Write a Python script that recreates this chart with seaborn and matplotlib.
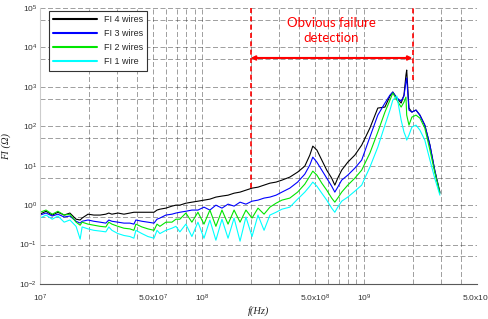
import matplotlib
matplotlib.use('Agg')
import matplotlib.pyplot as plt
import seaborn as sns
import pandas as pd
from matplotlib.ticker import FixedLocator, NullFormatter

# frequency axis (Hz), shared by the four curves
freq_hz = [1.0e7, 1.09e7, 1.19e7, 1.29e7, 1.41e7, 1.53e7, 1.67e7, 1.77e7, 1.82e7, 1.98e7,
           2.15e7, 2.35e7, 2.55e7, 2.66e7, 2.78e7, 3.03e7, 3.30e7, 3.59e7, 3.80e7, 3.91e7,
           4.26e7, 4.64e7, 5.06e7, 5.28e7, 5.5e7, 5.99e7, 6.53e7, 6.91e7, 7.31e7, 7.96e7,
           8.67e7, 9.45e7, 1.03e8, 1.12e8, 1.22e8, 1.33e8, 1.45e8, 1.58e8, 1.72e8, 1.87e8,
           2.04e8, 2.22e8, 2.42e8, 2.63e8, 2.87e8, 3.12e8, 3.49e8, 3.90e8, 4.32e8, 4.64e8,
           4.84e8, 5.13e8, 5.50e8, 5.90e8, 6.33e8, 6.62e8, 6.90e8, 7.30e8, 7.96e8, 8.80e8,
           9.70e8, 1.09e9, 1.22e9, 1.35e9, 1.45e9, 1.51e9, 1.60e9, 1.70e9, 1.77e9, 1.82e9,
           1.84e9, 1.90e9, 1.98e9, 2.10e9, 2.22e9, 2.38e9, 2.56e9, 2.74e9, 2.95e9]

fi_4_wires = [0.59, 0.70, 0.56, 0.66, 0.56, 0.63, 0.44, 0.42, 0.47, 0.59,
              0.56, 0.56, 0.59, 0.63, 0.59, 0.63, 0.59, 0.63, 0.66, 0.66,
              0.66, 0.66, 0.66, 0.75, 0.79, 0.84, 0.944, 1.0, 1.0, 1.12,
              1.19, 1.26, 1.34, 1.42, 1.60, 1.70, 1.79, 2.01, 2.14, 2.40,
              2.70, 2.86, 3.22, 3.61, 3.84, 4.31, 5.14, 6.88, 9.77, 18.6,
              31.4, 24.9, 13.9, 7.73, 4.84, 3.22, 4.84, 7.73, 12.3, 18.6,
              33.3, 90, 290, 307, 585, 738, 520, 388, 619, 1990,
              2670, 290, 229, 258, 192, 107, 33.3, 7.73, 2.14]

fi_3_wires = [0.56, 0.63, 0.53, 0.59, 0.50, 0.53, 0.39, 0.35, 0.39, 0.42,
              0.39, 0.37, 0.35, 0.42, 0.39, 0.37, 0.35, 0.35, 0.33, 0.42,
              0.39, 0.37, 0.35, 0.44, 0.47, 0.56, 0.59, 0.63, 0.66, 0.70,
              0.75, 0.75, 0.89, 0.75, 1.0, 0.84, 1.06, 0.944, 1.19, 1.06,
              1.26, 1.34, 1.51, 1.60, 1.79, 2.14, 2.70, 3.84, 6.12, 10.4,
              16.5, 12.3, 7.73, 4.84, 3.03, 2.14, 2.86, 4.31, 5.77, 8.69,
              13.9, 53.2, 192, 388, 619, 738, 520, 437, 585, 1324,
              1671, 258, 229, 258, 192, 107, 33.3, 7.73, 2.01]

fi_2_wires = [0.66, 0.75, 0.59, 0.70, 0.56, 0.59, 0.37, 0.31, 0.37, 0.33,
              0.31, 0.29, 0.28, 0.37, 0.33, 0.29, 0.26, 0.25, 0.23, 0.33,
              0.28, 0.25, 0.23, 0.33, 0.29, 0.37, 0.37, 0.44, 0.44, 0.63,
              0.37, 0.66, 0.33, 0.75, 0.29, 0.75, 0.33, 0.75, 0.37, 0.75,
              0.47, 0.84, 0.59, 0.89, 1.12, 1.34, 1.51, 2.14, 3.41, 5.45,
              7.29, 5.77, 3.61, 2.40, 1.51, 1.19, 1.51, 2.14, 3.22, 4.84,
              7.73, 20.9, 71.3, 229, 462, 697, 462, 307, 411, 551,
              192, 107, 171, 192, 161, 90, 24.9, 6.88, 2.01]

fi_1_wire = [0.47, 0.56, 0.44, 0.53, 0.37, 0.42, 0.29, 0.137, 0.28, 0.25,
             0.23, 0.22, 0.21, 0.28, 0.23, 0.19, 0.17, 0.16, 0.145, 0.23,
             0.19, 0.16, 0.145, 0.23, 0.19, 0.23, 0.26, 0.29, 0.21, 0.33,
             0.16, 0.37, 0.145, 0.42, 0.129, 0.44, 0.145, 0.47, 0.122, 0.50,
             0.16, 0.56, 0.23, 0.56, 0.66, 0.79, 0.89, 1.42, 2.14, 3.03,
             3.84, 3.03, 2.01, 1.34, 0.84, 0.66, 0.89, 1.26, 1.60, 2.26,
             3.22, 9.2, 29.6, 107, 258, 462, 585, 144, 71.3, 53.2,
             44.7, 59.8, 95.4, 107, 80, 44.7, 13.9, 4.84, 1.79]

labels = ['FI 4 wires', 'FI 3 wires', 'FI 2 wires', 'FI 1 wire']
colors = ['#000000', '#0000ff', '#00e600', '#00ffff']

x_ticks = [1e7, 5e7, 1e8, 5e8, 1e9, 5e9]
x_ticklabels = [r'$10^{7}$', r'$5.0\mathrm{x}10^{7}$', r'$10^{8}$',
                r'$5.0\mathrm{x}10^{8}$', r'$10^{9}$', r'$5.0\mathrm{x}10^{9}$']
y_ticks = [1e-2, 1e-1, 1e0, 1e1, 1e2, 1e3, 1e4, 1e5]
y_ticklabels = [r'$10^{-2}$', r'$10^{-1}$', r'$10^{0}$', r'$10^{1}$',
                r'$10^{2}$', r'$10^{3}$', r'$10^{4}$', r'$10^{5}$']

# failure detection band
band_lo, band_hi = 2e8, 2e9

sns.set_style('white')
plt.rcParams['font.family'] = ['Liberation Sans', 'DejaVu Sans']
plt.rcParams['mathtext.fontset'] = 'custom'
plt.rcParams['mathtext.rm'] = 'Liberation Sans'
plt.rcParams['mathtext.it'] = 'Liberation Sans:italic'

series = [fi_4_wires, fi_3_wires, fi_2_wires, fi_1_wire]
df = pd.concat([pd.DataFrame({'f': freq_hz, 'fi': s, 'series': lab})
                for s, lab in zip(series, labels)], ignore_index=True)

fig = plt.figure(figsize=(4.89, 3.19), dpi=100)
ax = fig.add_axes([40 / 489, 1 - 284 / 319, 437 / 489, 276 / 319])

sns.lineplot(data=df, x='f', y='fi', hue='series', hue_order=labels,
             palette=colors, estimator=None, sort=False, lw=0.8, ax=ax)

ax.set_xscale('log')
ax.set_yscale('log')
ax.set_xlim(1e7, 5e9)
ax.set_ylim(1e-2, 1e5)

ax.xaxis.set_major_locator(FixedLocator(x_ticks))
ax.set_xticklabels(x_ticklabels)
x_minor = [m * 10 ** e for e in (7, 8, 9) for m in (2, 3, 4, 6, 7, 8, 9)]
ax.xaxis.set_minor_locator(FixedLocator([v for v in x_minor if v < 5e9]))
ax.xaxis.set_minor_formatter(NullFormatter())
ax.yaxis.set_major_locator(FixedLocator(y_ticks))
ax.set_yticklabels(y_ticklabels)
ax.yaxis.set_minor_locator(FixedLocator([5 * v for v in y_ticks[:-1]]))
ax.yaxis.set_minor_formatter(NullFormatter())
ax.tick_params(which='both', length=0, labelsize=6, colors='0.2')
ax.tick_params(axis='x', pad=6)
ax.tick_params(axis='y', pad=2)

ax.grid(True, which='both', color='0.2', linestyle=(0, (6, 3)), lw=0.6, alpha=0.55)
for side in ['top', 'right']:
    ax.spines[side].set_visible(False)
ax.spines['bottom'].set_color('0.35')
ax.spines['left'].set_color('0.8')
ax.spines['bottom'].set_linewidth(0.8)
ax.spines['left'].set_linewidth(0.8)

ax.set_xlabel('f(Hz)', family='Liberation Serif', style='italic', fontsize=7.5, labelpad=2)
ax.set_ylabel('FI (Ω)', family='Liberation Serif', style='italic', fontsize=7.5, labelpad=6)

handles, labs = ax.get_legend_handles_labels()
for h in handles:
    h.set_linewidth(1.5)
leg = ax.legend(handles, labs, loc='upper left', bbox_to_anchor=(0.02, 0.99),
                borderaxespad=0, fontsize=6.5, handlelength=4.8, fancybox=False,
                framealpha=1, edgecolor='0.2', labelspacing=0.55, borderpad=0.5)
leg.get_frame().set_linewidth(0.8)

# red annotation: failure band
ax.vlines(band_lo, 2.7, 1e5, colors='red', linestyles=(0, (3, 2)), lw=1.2, zorder=5)
ax.vlines(band_hi, 1.5e3, 1e5, colors='red', linestyles=(0, (3, 2)), lw=1.2, zorder=5)
ax.annotate('', xy=(band_hi, 5.4e3), xytext=(band_lo, 5.4e3),
            arrowprops=dict(arrowstyle='<|-|>', color='red', lw=1.5,
                            mutation_scale=6, shrinkA=0, shrinkB=0), zorder=6)
ax.text((band_lo * band_hi) ** 0.5, 2.7e4, 'Obvious failure\ndetection', ha='center',
        va='center', color='red', fontsize=9.5, family='Lato', linespacing=1.3)

fig.savefig('out.png', dpi=100)
